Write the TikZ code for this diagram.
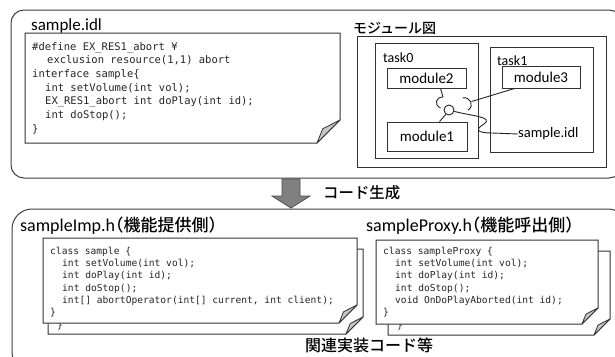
\documentclass[tikz,border=0pt]{standalone}
\usepackage{fontspec}
\setmainfont{Carlito}
\newfontfamily\jp{Noto Sans CJK JP}[UprightFont={* Medium}]
\newfontfamily\jph{Noto Sans CJK JP}[UprightFont={* Medium},RawFeature=+halt]
\newfontfamily\codefont{DejaVu Sans Mono}
\usetikzlibrary{calc}
\newcommand\docpath[5]{%
  \filldraw[docs] (#1,#2) -- (#3,#2) -- (#3,{#4-#5}) -- ({#3-#5},#4) -- (#1,#4) -- cycle;
  \filldraw[fold] ({#3-#5},#4) -- ({#3-0.75*#5},{#4-0.62*#5}) -- (#3,{#4-#5}) -- cycle;}
\begin{document}
\begin{tikzpicture}[x=1pt,y=-1pt,
  frame/.style={draw=black!75, line width=1pt, rounded corners=13pt},
  docs/.style={draw=black!80, fill=white, line width=1pt},
  fold/.style={draw=black!80, fill=black!22, line width=0.8pt, line join=round},
  plainbox/.style={draw=black!80, line width=1pt},
  modbox/.style={draw=black!80, line width=1pt, inner sep=0pt, font=\fontsize{15}{15}\selectfont},
  lbl/.style={inner sep=0pt, anchor=base west},
  codeA/.style={inner sep=0pt, anchor=base west, text=black!85, font=\codefont\fontsize{10.5}{12}\selectfont},
  codeB/.style={inner sep=0pt, anchor=base west, text=black!85, font=\codefont\fontsize{9.6}{11}\selectfont},
  link/.style={draw=black!85, line width=0.9pt}
]
\useasboundingbox (0,0) rectangle (615,356);
\clip (0,0) rectangle (615,356);
\fill[white] (0,0) rectangle (615,356);

% ---------- top frame ----------
\draw[frame] (11,10) rectangle (622,178);
\node[lbl, font=\fontsize{17}{17}\selectfont] (title1) at (31,30) {sample.idl};

\docpath{25}{33}{340}{143}{23}
\node[codeA] (a1) at (32,50) {\#define EX\_RES1\_abort ¥};
\node[codeA] (a2) at (47,63.7) {exclusion resource(1,1) abort};
\node[codeA] (a3) at (32,77.3) {interface sample\{};
\node[codeA] (a4) at (45,91) {int setVolume(int vol);};
\node[codeA] (a5) at (45,104.7) {EX\_RES1\_abort int doPlay(int id);};
\node[codeA] (a6) at (45,118.3) {int doStop();};
\node[codeA] (a7) at (32,132) {\}};

% module diagram
\node[lbl, font=\jp\fontsize{14}{14}\selectfont] (mtitle) at (353,33.5) {モジュール図};
\draw[plainbox] (357,36) rectangle (606,167);
\draw[plainbox] (375,43) rectangle (478,158);
\draw[plainbox] (490,47) rectangle (593,152);
\node[lbl, font=\fontsize{14}{14}\selectfont] (t0) at (383,62) {task0};
\node[lbl, font=\fontsize{14}{14}\selectfont] (t1) at (497,65.5) {task1};
\node[modbox, minimum width=79pt, minimum height=20pt] (module2) at (426.5,78) {module2};
\node[modbox, minimum width=78pt, minimum height=22pt] (module3) at (541,77) {module3};
\node[modbox, minimum width=80pt, minimum height=29pt] (module1) at (427,136.5) {module1};
\node[circle, link, minimum size=10pt, inner sep=0pt] (ball) at (449,110) {};
\node[anchor=west, inner sep=0pt, font=\fontsize{14.5}{14.5}\selectfont] (idl) at (518,134) {sample.idl};

\coordinate (s1t) at (443,97);
\coordinate (s1b) at (440.5,108);
\coordinate (s2t) at (462.5,98);
\coordinate (s2b) at (468,110);
\coordinate (s2r) at (471.5,101.5);
\draw[link] (s1t) .. controls (436,97) and (433.5,104.5) .. (s1b);
\draw[link] (s2t) .. controls (470,96) and (475,106) .. (s2b);
\draw[link] ($(module2.south west)+(54,0)$) -- (s1t);
\draw[link] (ball.235) -- ($(module1.north west)+(53,0)$);
\draw[link] (s2r) -- ($(module3.south west)+(13,0)$);
\draw[link] (ball.-15) .. controls (472,116) and (494,117) .. (484,124)
  .. controls (474,130) and (478,133) .. (492,133) -- (idl.west);

% ---------- arrow ----------
\filldraw[fill=black!50, draw=black!70, line width=0.8pt]
  (282,179) -- (300,179) -- (300,196) -- (310,196) -- (291,208) -- (272,196) -- (282,196) -- cycle;
\node[lbl, font=\jp\fontsize{15.4}{15.4}\selectfont] (gen) at (323,198.8) {コード生成};

% ---------- bottom frame ----------
\draw[frame, rounded corners=20pt] (12,209) rectangle (628,372);
\node[lbl, font=\fontsize{18}{18}\selectfont] (h1) at (20,231) {sampleImp.h{\jph\fontsize{17}{17}\selectfont（機能提供側）}};
\node[lbl, font=\fontsize{18}{18}\selectfont] (h2) at (366,231.5) {sampleProxy.h{\jph\fontsize{17}{17}\selectfont（機能呼出側）}};

% left stack
\docpath{48}{249}{363}{334}{17}
\node[codeB] (lb) at (57,328) {\}};
\docpath{43}{238}{357}{323}{18}
\node[codeB] (b1) at (50,254.5) {class sample \{};
\node[codeB] (b2) at (62,266.7) {int setVolume(int vol);};
\node[codeB] (b3) at (62,278.9) {int doPlay(int id);};
\node[codeB] (b4) at (62,291.1) {int doStop();};
\node[codeB] (b5) at (62,303.3) {int[] abortOperator(int[] current, int client);};
\node[codeB] (b6) at (50,315.5) {\}};

% right stack
\docpath{388}{251}{610}{335}{16}
\node[codeB] (rb) at (397,328) {\}};
\docpath{376}{240}{598}{324}{16}
\node[codeB] (c1) at (383,254.5) {class sampleProxy \{};
\node[codeB] (c2) at (395,266.7) {int setVolume(int vol);};
\node[codeB] (c3) at (395,278.9) {int doPlay(int id);};
\node[codeB] (c4) at (395,291.1) {int doStop();};
\node[codeB] (c5) at (395,303.3) {void OnDoPlayAborted(int id);};
\node[codeB] (c6) at (383,315.5) {\}};

\node[lbl, font=\jp\fontsize{16}{16}\selectfont] (impl) at (305,351) {関連実装コード等};
\end{tikzpicture}
\end{document}
